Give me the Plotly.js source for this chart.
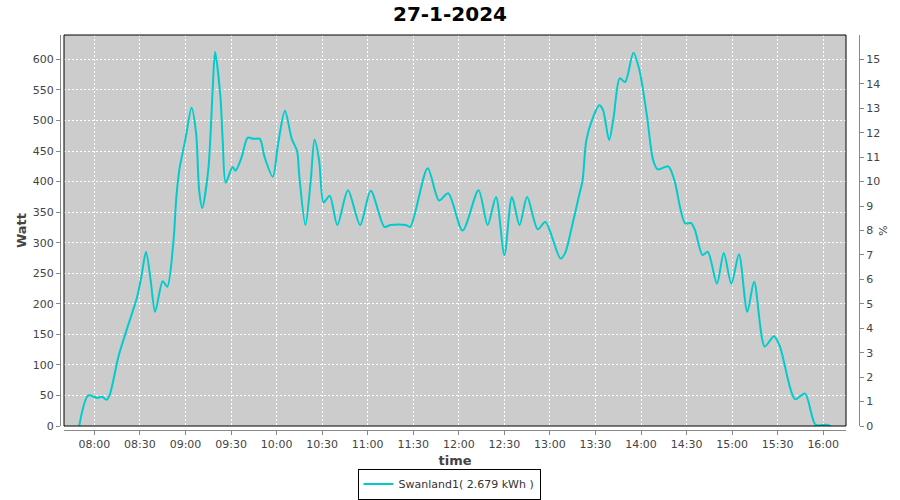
<!DOCTYPE html>
<html>
<head>
<meta charset="utf-8">
<script src="https://cdn.plot.ly/plotly-3.0.1.min.js"></script>
<style>html,body{margin:0;padding:0;background:#fff;}#chart{width:900px;height:500px;}</style>
</head>
<body>
<div id="chart"></div>
<script>
const day = '2024-01-27';
const times = ['07:50','07:56','08:02','08:05','08:08','08:10','08:16','08:22','08:28','08:31','08:34','08:37','08:40','08:45','08:48','08:52','08:54','08:56','09:00','09:04','09:07','09:09','09:11','09:15','09:18','09:19:30','09:23','09:24:30','09:26:30','09:31','09:33','09:37','09:41','09:45','09:49','09:52','09:57:30','10:01','10:05:30','10:10','10:13:30','10:15','10:19','10:22:30','10:25','10:28','10:31','10:35','10:40','10:47','10:55','11:02','11:11','11:15','11:25','11:28','11:39:30','11:47','11:53','12:02:30','12:13','12:19','12:24:30','12:30','12:35','12:40','12:45','12:52','12:57','13:07','13:10','13:15','13:19','13:21:30','13:24','13:28:30','13:32:30','13:35','13:39','13:42','13:46','13:49:30','13:55','13:59','14:04','14:08','14:11','14:18','14:22','14:29','14:33','14:35:30','14:40:30','14:44','14:50','14:54:30','14:59:30','15:04:30','15:10','15:14:30','15:21:30','15:27:30','15:31:30','15:41:30','15:48','15:55','16:02','16:05'];
const watts = [0,50,46,48,43,50,115,163,210,245,285,240,187,237,228,300,375,420,470,521,479,386,357,419,555,612,539,468,398,424,418,440,472,470,470,441,408,462,516,470,450,408,329,402,469,435,366,377,329,386,329,385,326,329,329,326,422,369,381,320,386,329,375,280,375,329,375,322,334,274,283,332,375,402,468,506,525,517,468,506,569,563,611,582,506,435,420,425,402,332,332,321,280,285,233,283,233,281,187,236,130,147,130,44,53,2,2,0];
const tickLabels = ['08:00','08:30','09:00','09:30','10:00','10:30','11:00','11:30','12:00','12:30','13:00','13:30','14:00','14:30','15:00','15:30','16:00'];
const seriesName = 'Swanland1( 2.679 kWh )';
const chartTitle = '27-1-2024';

const x = times.map(t => day + ' ' + (t.length === 5 ? t + ':00' : t));
const tickVals = tickLabels.map(t => day + ' ' + t + ':00');

const font = 'DejaVu Sans, sans-serif';
const tickFont = {family: font, size: 11, color: '#444'};

const trace = {
  x: x, y: watts, type: 'scatter', mode: 'lines', name: seriesName,
  line: {color: '#00CCCC', width: 2, shape: 'spline', smoothing: 0.8},
  xaxis: 'x', yaxis: 'y'
};
const dummy = {x: [x[0]], y: [0], yaxis: 'y2', xaxis: 'x', type: 'scatter', mode: 'none', showlegend: false, hoverinfo: 'skip'};

const L = 60, R = 859, T = 35, B = 430;
const W = R - L, H = B - T;
const layout = {
  width: 900, height: 500,
  paper_bgcolor: '#ffffff', plot_bgcolor: '#cccccc',
  margin: {l: L, r: 900 - R, t: T, b: 500 - B, pad: 0},
  title: {text: chartTitle, font: {family: font, size: 20, color: '#000', weight: 'bold'}, x: 0.5, xref: 'container', y: 1 - 14/500, yref: 'container', yanchor: 'middle'},
  showlegend: true,
  legend: {orientation: 'h', xref: 'container', yref: 'container', x: 449/900, xanchor: 'center', y: 1 - 484/500, yanchor: 'middle',
           bordercolor: '#000', borderwidth: 1, font: {family: font, size: 11, color: '#333'}, bgcolor: '#fff',
           itemwidth: 30, tracegroupgap: 0},
  xaxis: {
    type: 'date', domain: [(64 - L)/W, (846 - L)/W], anchor: 'free', position: 0,
    range: [day + ' 07:40:00', day + ' 16:15:00'],
    tickvals: tickVals, ticktext: tickLabels, tickfont: tickFont,
    showline: true, linecolor: '#888', linewidth: 1,
    ticks: 'outside', ticklen: 4, tickcolor: '#888',
    showgrid: true, gridcolor: '#ffffff', gridwidth: 1, griddash: '2px,2px',
    zeroline: false,
    title: {text: 'time', font: {family: font, size: 13, color: '#444', weight: 'bold'}, standoff: 5}
  },
  yaxis: {
    domain: [(B - 426)/H, 1], anchor: 'free', position: 0,
    range: [0, 640], tickvals: [0,50,100,150,200,250,300,350,400,450,500,550,600],
    tickfont: tickFont, showline: true, linecolor: '#888', linewidth: 1,
    ticks: 'outside', ticklen: 4, tickcolor: '#888',
    showgrid: true, gridcolor: '#ffffff', gridwidth: 1, griddash: '2px,2px',
    zeroline: false,
    title: {text: 'Watt', font: {family: font, size: 13, color: '#444', weight: 'bold'}, standoff: 2}
  },
  yaxis2: {
    overlaying: 'y', side: 'right', anchor: 'free', position: 1,
    range: [0, 16], tickvals: [0,1,2,3,4,5,6,7,8,9,10,11,12,13,14,15],
    tickfont: tickFont, showline: true, linecolor: '#888', linewidth: 1,
    ticks: 'outside', ticklen: 4, tickcolor: '#888', showgrid: false, zeroline: false,
    title: {text: '%', font: {family: font, size: 11, color: '#444'}, standoff: 0}
  },
  shapes: [{type: 'rect', xref: 'x domain', yref: 'y domain', x0: 0, x1: 1, y0: 0, y1: 1,
            line: {color: '#000', width: 1}, fillcolor: 'rgba(0,0,0,0)', layer: 'above'}]
};

Plotly.newPlot('chart', [trace, dummy], layout, {staticPlot: true, displayModeBar: false});
</script>
</body>
</html>
